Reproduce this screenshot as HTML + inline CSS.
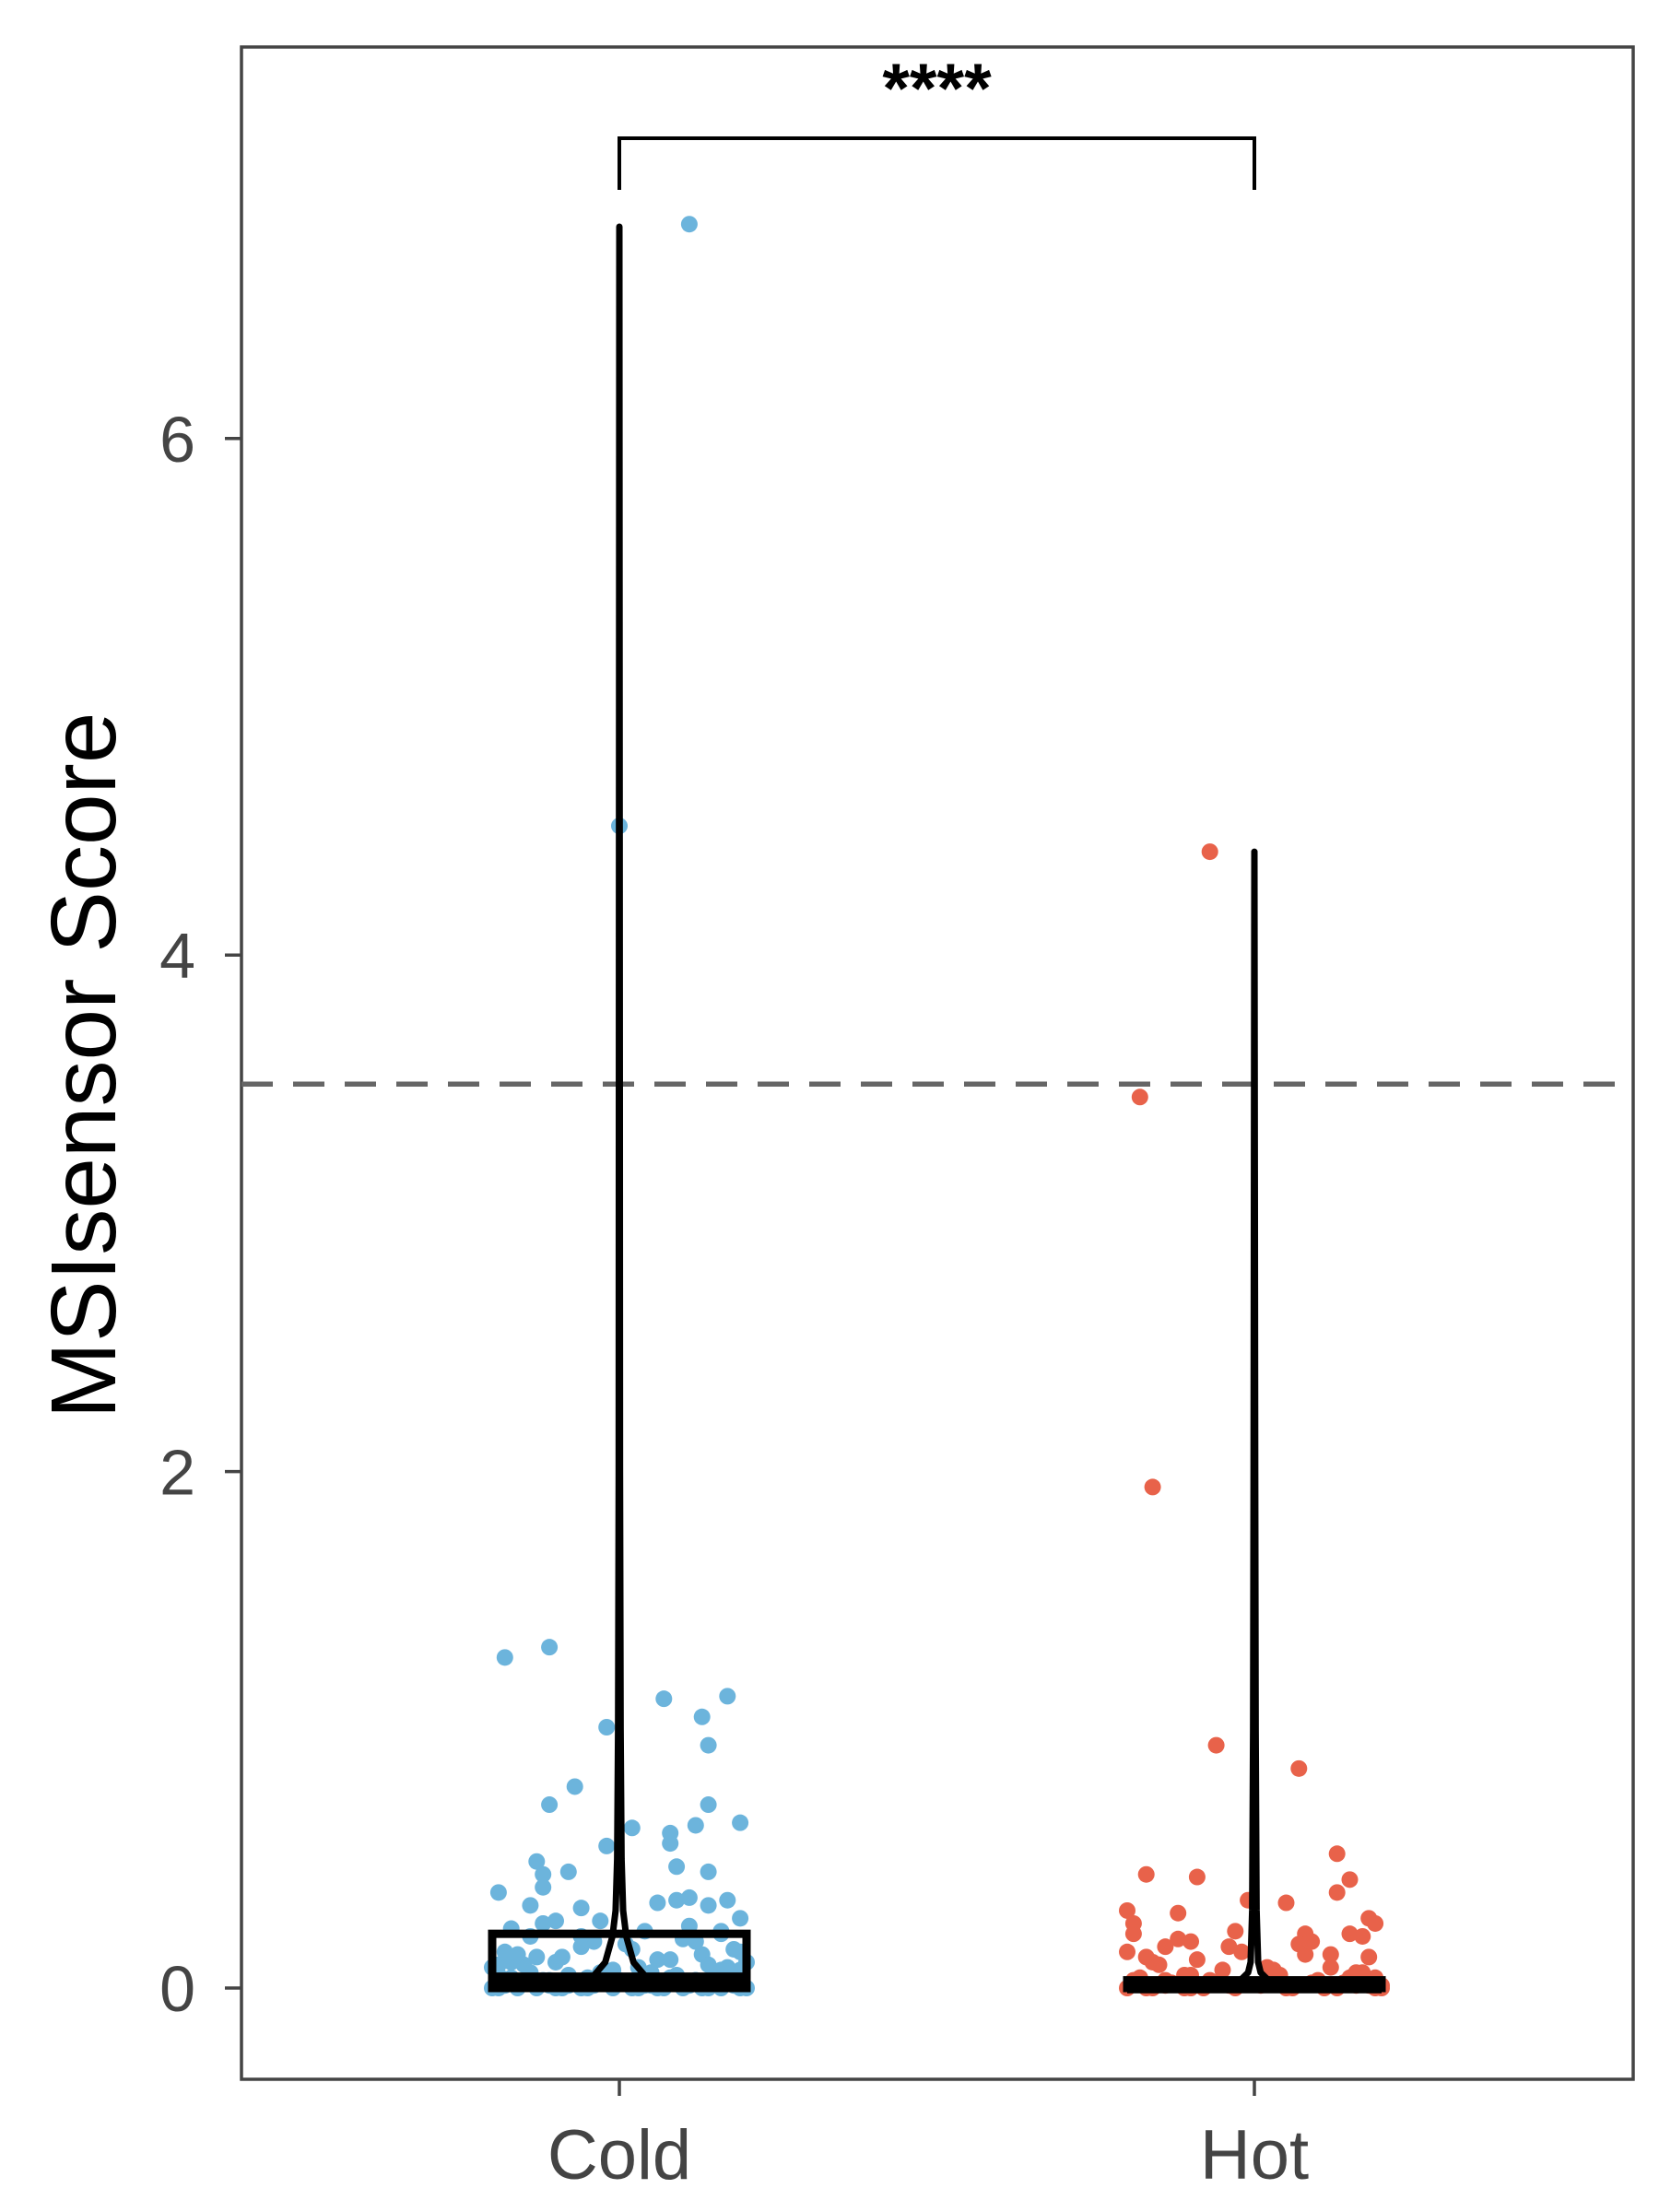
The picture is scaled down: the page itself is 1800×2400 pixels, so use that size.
<!DOCTYPE html>
<html><head><meta charset="utf-8"><style>
html,body{margin:0;padding:0;background:#fff;}
svg{display:block;font-family:"Liberation Sans",Arial,sans-serif;}
</style></head><body>
<svg id="chart" width="1800" height="2400" viewBox="0 0 1800 2400" xmlns="http://www.w3.org/2000/svg">
<rect x="0" y="0" width="1800" height="2400" fill="#fff"/>
<g id="layer"></g>
</svg>
<script>
const categories = ["Cold","Hot"];
const yTicks = [0,2,4,6];
const threshold = 3.5;
const significance = "****";
const coldValues = [6.83,4.50,1.28,1.32,1.12,1.13,1.05,1.01,0.94,0.78,0.71,0.71,0.64,0.63,0.62,0.60,0.55,0.56,0.49,0.45,0.44,0.47,0.45,0.39,0.37,0.32,0.31,0.33,0.34,0.35,0.34,0.32,0.27,0.23,0.26,0.26,0.22,0.21,0.2,0.19,0.18,0.16,0.15,0.14,0.13,0.12,0.11,0.1,0.09,0.08,0.07,0.06,0.05,0.05,0.04,0.03,0.03,0.02,0.02,0.01,0.01,0.0,0.0,0.0,0.0,0.0,0.12,0.17,0.08,0.06,0.24,0.14,0.1,0.04,0.02,0.01,0.0,0.0,0.07,0.09,
0.0,0.0,0.0,0.0,0.0,0.0,0.0,0.0,0.0,0.0,0.0,0.0,0.01,0.01,0.01,0.01,0.01,0.01,0.02,0.02,0.02,0.02,0.03,0.03,0.03,0.04,0.04,0.05,0.05,0.06,0.06,0.07,0.08,0.09,0.1,0.11,0.13,0.15,0.18,0.2,0.22,0.25];
const coldJitter = [0.11,0,-0.18,-0.11,0.07,0.17,0.13,-0.02,0.14,-0.07,-0.11,0.14,0.19,0.12,0.02,0.08,-0.02,0.08,-0.13,-0.08,-0.12,0.09,0.14,-0.12,-0.19,-0.14,-0.06,0.06,0.09,0.11,0.17,0.14,0.19,-0.17,-0.1,-0.03,0.04,0.16,-0.14,0.1,-0.04,-0.06,0.18,-0.18,0.13,-0.09,0.06,0.2,-0.15,0.03,-0.01,0.15,-0.19,0.09,-0.05,0.12,-0.11,0.18,-0.16,0.05,-0.08,-0.2,0.2,-0.1,0.07,0.14,-0.13,0.01,0.17,-0.03,0.11,0.19,-0.17,0.08,-0.14,0.13,-0.06,0.02,0.16,-0.19,
-0.19,-0.16,-0.13,-0.09,-0.05,-0.01,0.03,0.06,0.1,0.13,0.16,0.19,-0.18,-0.11,-0.04,0.04,0.11,0.18,-0.15,-0.07,0.07,0.15,-0.12,0.0,0.12,-0.17,0.09,-0.08,0.17,-0.14,0.05,0.19,-0.2,0.14,-0.1,0.08,-0.16,0.02,0.12,-0.06,0.16,-0.12];
const hotValues = [4.40,3.45,1.94,0.94,0.85,0.52,0.44,0.43,0.42,0.37,0.34,0.33,0.30,0.29,0.27,0.25,0.25,0.21,0.21,0.21,0.22,0.19,0.18,0.17,0.18,0.16,0.14,0.12,0.14,0.11,0.12,0.13,0.09,0.08,0.07,0.06,0.05,0.05,0.04,0.04,0.03,0.03,0.02,0.02,0.01,0.01,0.0,0.0,0.0,0.0,0.0,0.0,0.08,0.06,0.03,0.02,0.01,0.0,
0.0,0.0,0.0,0.0,0.0,0.0,0.01,0.01,0.01,0.02,0.02,0.03,0.04,0.05,0.07,0.1,0.13,0.16,0.2];
const hotJitter = [-0.07,-0.18,-0.16,-0.06,0.07,0.13,-0.17,-0.09,0.15,0.13,-0.01,0.05,-0.2,-0.12,0.18,0.19,-0.19,-0.19,0.08,0.15,-0.03,-0.12,-0.1,0.07,0.09,-0.14,-0.2,-0.17,-0.02,-0.09,0.18,0.08,-0.15,0.12,-0.05,0.16,-0.11,0.04,0.19,-0.18,0.1,-0.07,0.14,-0.13,0.2,-0.04,-0.2,0.2,0.06,-0.16,0.11,-0.08,0.02,0.17,-0.14,0.09,0.18,-0.1,
-0.17,-0.11,-0.03,0.05,0.13,0.19,-0.14,0.01,0.16,-0.06,0.1,-0.19,0.15,-0.1,0.03,-0.16,0.12,-0.04,0.17];
const coldBox = {q1:0.0, med:0.03, q3:0.21};
const hotBox = {q1:0.0, med:0.01, q3:0.03};
const coldViolinY = [0,0.05,0.1,0.2,0.3,0.5,1,2,4.5,6.82];
const coldViolinD = [1,0.8,0.45,0.22,0.12,0.07,0.04,0.02,0.01,0.0];
const hotViolinY = [0,0.03,0.06,0.1,0.3,1,2,4.4];
const hotViolinD = [0.7,0.45,0.2,0.12,0.07,0.04,0.025,0.0];

const NS="http://www.w3.org/2000/svg";
const L={left:262,top:51,right:1772,bottom:2256};
const yScale=v=>2157-v*280.2;
const xScale=i=>[672,1361][i];
const bandW=690;
const layer=document.getElementById('layer');
function mk(tag,attrs,parent){const e=document.createElementNS(NS,tag);for(const k in attrs)e.setAttribute(k,attrs[k]);(parent||layer).appendChild(e);return e;}

const border=mk('rect',{x:L.left,y:L.top,width:L.right-L.left,height:L.bottom-L.top,fill:'none',stroke:'#444',"stroke-width":3.5});



yTicks.forEach(t=>{
  const y=yScale(t);
  const tk=mk('line',{x1:L.left-18,x2:L.left,y1:y,y2:y,stroke:'#444',"stroke-width":3.5});
  
  
  const tl=mk('text',{x:L.left-50,y:y+25,"text-anchor":"end","font-size":70,fill:'#444'});
  tl.textContent=t;
  
  
});
categories.forEach((c,i)=>{
  const x=xScale(i);
  const tk=mk('line',{x1:x,x2:x,y1:L.bottom,y2:L.bottom+18,stroke:'#444',"stroke-width":3.5});
  
  
  const tl=mk('text',{x:x,y:2364,"text-anchor":"middle","font-size":76,fill:'#444'});
  tl.textContent=c;
  
  
});
const yt=mk('text',{x:0,y:0,transform:'translate(125,1156) rotate(-90)',"text-anchor":"middle","font-size":100,fill:'#000'});
yt.textContent='MSIsensor Score';



const th=mk('line',{x1:L.left,x2:L.right,y1:yScale(threshold),y2:yScale(threshold),stroke:'#666',"stroke-width":5.5,"stroke-dasharray":"34 22"});



[[coldValues,coldJitter,'#6cb4dc','cold-point'],[hotValues,hotJitter,'#e8624a','hot-point']].forEach((s,i)=>{
  s[0].forEach((v,j)=>{
    const p=mk('circle',{cx:xScale(i)+s[1][j]*bandW,cy:yScale(v),r:9,fill:s[2]});
    
    
  });
});

[[coldViolinY,coldViolinD],[hotViolinY,hotViolinD]].forEach((s,i)=>{
  const cx=xScale(i),maxW=34;let r=[],l=[];
  s[0].forEach((v,j)=>{const w=s[1][j]*maxW;r.push([cx+w,yScale(v)]);l.unshift([cx-w,yScale(v)]);});
  const pts=r.concat(l).map(p=>p.join(',')).join(' ');
  const vp=mk('polygon',{points:pts,fill:'none',stroke:'#000',"stroke-width":7,"stroke-linejoin":"round"});
  
  
});

[coldBox,hotBox].forEach((b,i)=>{
  const cx=xScale(i),hw=138;
  const bx=mk('rect',{x:cx-hw,y:yScale(b.q3),width:2*hw,height:yScale(b.q1)-yScale(b.q3),fill:'none',stroke:'#000',"stroke-width":9});
  
  
  const md=mk('line',{x1:cx-hw,x2:cx+hw,y1:yScale(b.med),y2:yScale(b.med),stroke:'#000',"stroke-width":17});
  
  
});

const br=mk('path',{d:`M${xScale(0)},206 V150 H${xScale(1)} V206`,fill:'none',stroke:'#000',"stroke-width":4});


const st=mk('text',{x:(xScale(0)+xScale(1))/2,y:122,"text-anchor":"middle","font-size":76,"font-weight":"bold",fill:'#000'});
st.textContent=significance;


</script>
</body></html>
